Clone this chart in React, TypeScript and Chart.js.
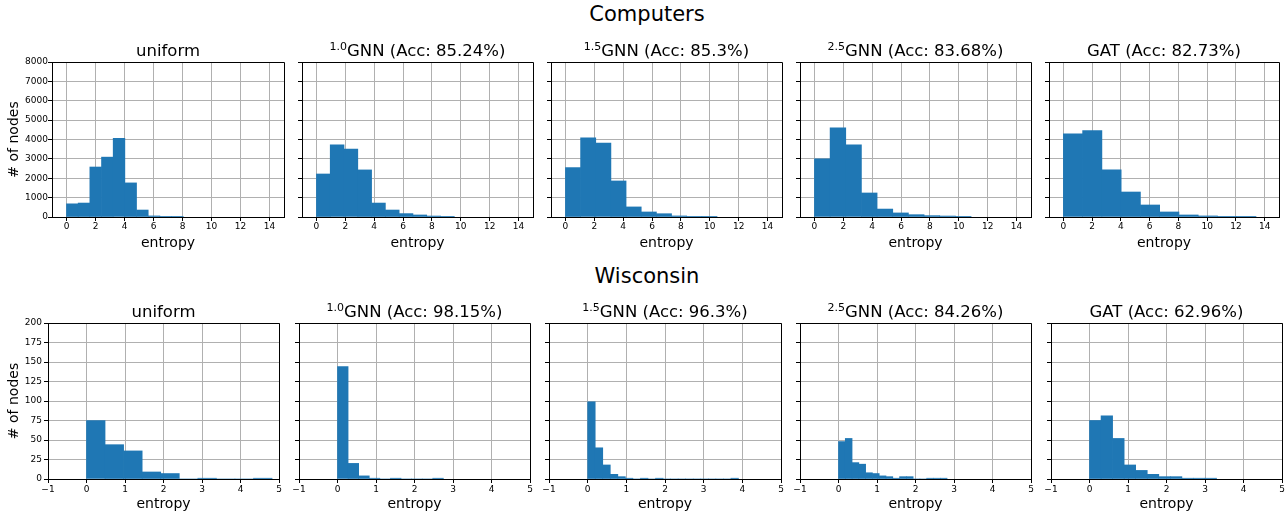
import React, { useEffect, useRef } from 'react';
import { Chart, registerables } from 'chart.js';

Chart.register(...registerables);

// ---------------------------------------------------------------------------
// Data: node-entropy histograms per dataset and model.
// Each count list splits the model's [0, max entropy] range into equal bins.
// ---------------------------------------------------------------------------
const DATASET_NAMES = ['Computers', 'Wisconsin'];
const MODEL_SUPERSCRIPTS = ['', '1.0', '1.5', '2.5', ''];
const COMPUTERS_TITLES = ['uniform', 'GNN (Acc: 85.24%)', 'GNN (Acc: 85.3%)', 'GNN (Acc: 83.68%)', 'GAT (Acc: 82.73%)'];
const WISCONSIN_TITLES = ['uniform', 'GNN (Acc: 98.15%)', 'GNN (Acc: 96.3%)', 'GNN (Acc: 84.26%)', 'GAT (Acc: 62.96%)'];

const COMPUTERS_MAX_ENTROPY = [8.05, 9.55, 10.5, 10.85, 13.4];
const COMPUTERS_UNIFORM = [680, 720, 2580, 3090, 4060, 1760, 360, 55, 3, 1];
const COMPUTERS_GNN_10 = [2220, 3720, 3510, 2430, 720, 360, 175, 105, 50, 4];
const COMPUTERS_GNN_15 = [2550, 4080, 3820, 1860, 520, 260, 170, 55, 35, 4];
const COMPUTERS_GNN_25 = [3000, 4600, 3720, 1240, 410, 210, 120, 70, 50, 5];
const COMPUTERS_GAT = [4290, 4460, 2430, 1290, 620, 260, 105, 55, 35, 3];

const WISCONSIN_MAX_ENTROPY = [4.82, 2.75, 3.9, 2.82, 3.3];
const WISCONSIN_UNIFORM = [75, 44, 36, 9, 7, 0, 1, 0, 0, 1];
const WISCONSIN_GNN_10 = [144, 20, 4, 1, 0, 1, 0, 0, 0, 1];
const WISCONSIN_GNN_15 = [99, 40, 18, 6, 3, 1, 0, 1, 0, 1, 0, 0, 0, 0, 0, 0, 0, 0, 0, 1];
const WISCONSIN_GNN_25 = [48, 52, 21, 19, 8, 7, 4, 3, 1, 3, 3, 0, 0, 1, 1, 1];
const WISCONSIN_GAT = [75, 81, 52, 18, 11, 6, 3, 3, 1, 1, 1];

const COMPUTERS_X_RANGE = [-1, 15];
const COMPUTERS_X_TICKS = [0, 2, 4, 6, 8, 10, 12, 14];
const COMPUTERS_Y_TICKS = [0, 1000, 2000, 3000, 4000, 5000, 6000, 7000, 8000];
const WISCONSIN_X_RANGE = [-1, 5];
const WISCONSIN_X_TICKS = [-1, 0, 1, 2, 3, 4, 5];
const WISCONSIN_Y_TICKS = [0, 25, 50, 75, 100, 125, 150, 175, 200];

const X_LABEL = 'entropy';
const Y_LABEL = '# of nodes';

// ---------------------------------------------------------------------------
// Figure layout (pixels)
// ---------------------------------------------------------------------------
const FIG_W = 1288;
const FIG_H = 513;
const FONT = '"DejaVu Sans", Verdana, sans-serif';
const BAR_COLOR = '#1f77b4';
const GRID_COLOR = '#b0b0b0';

const ROW_PLOT_TOP = [62, 323];
const ROW_PLOT_BOTTOM = [217, 479];
const ROW_PLOT_LEFT = [
  [52, 302, 551, 800, 1049],
  [48, 299, 549, 800, 1051],
];
const ROW_PLOT_RIGHT = [
  [284, 533, 782, 1031, 1279],
  [279, 530, 781, 1031, 1282],
];
const ROW_SUPTITLE_TOP = [4, 265.5];
const ROW_TITLE_TOP = [43, 304];
const ROW_Y_TICK_PAD = [0, 2];
const ROW_X_TICK_PAD = [0, 1];
const ROW_X_AXIS_H = [37, 34];
const ROW_X_TITLE_PAD = [2, 0];

const PAD_T = 8;
const PAD_R = 6;
const TICK_LEN = 4;

const alignPx = (v: number) => Math.round(v - 0.5) + 0.5;

// Draws the top and right frame lines of each axes box.
const framePlugin = {
  id: 'frame',
  afterDraw(chart: any) {
    const { ctx, chartArea: a } = chart;
    ctx.save();
    ctx.strokeStyle = '#000';
    ctx.lineWidth = 1;
    ctx.beginPath();
    ctx.moveTo(alignPx(a.left), alignPx(a.top));
    ctx.lineTo(alignPx(a.right), alignPx(a.top));
    ctx.lineTo(alignPx(a.right), alignPx(a.bottom));
    ctx.stroke();
    ctx.restore();
  },
};

const fmtTick = (v: number) => String(v).replace('-', '\u2212');

type PanelProps = {
  counts: number[];
  maxEntropy: number;
  xRange: number[];
  xTicks: number[];
  yTicks: number[];
  row: number;
  col: number;
};

function HistPanel({ counts, maxEntropy, xRange, xTicks, yTicks, row, col }: PanelProps) {
  const ref = useRef<HTMLCanvasElement>(null);
  const plotLeft = ROW_PLOT_LEFT[row][col];
  const plotRight = ROW_PLOT_RIGHT[row][col];
  const plotTop = ROW_PLOT_TOP[row];
  const plotBottom = ROW_PLOT_BOTTOM[row];
  const xAxisH = ROW_X_AXIS_H[row];
  const yW = col === 0 ? plotLeft : 6;
  const left = plotLeft - yW;
  const top = plotTop - PAD_T;
  const w = yW + (plotRight - plotLeft) + PAD_R;
  const h = PAD_T + (plotBottom - plotTop) + xAxisH;
  const showY = col === 0;

  useEffect(() => {
    const canvas = ref.current;
    if (!canvas) return;
    const binW = maxEntropy / counts.length;
    const points = counts.map((c, i) => ({ x: (i + 0.5) * binW, y: c }));
    const chart = new Chart(canvas, {
      type: 'bar',
      data: {
        datasets: [
          {
            data: points as any,
            backgroundColor: BAR_COLOR,
            borderWidth: 0,
            barPercentage: 1,
            categoryPercentage: 1,
          },
        ],
      },
      options: {
        animation: false,
        responsive: false,
        maintainAspectRatio: false,
        devicePixelRatio: 1,
        events: [],
        layout: { padding: { top: PAD_T, right: PAD_R, left: 0, bottom: 0 } },
        plugins: {
          legend: { display: false },
          tooltip: { enabled: false },
          title: { display: false },
        },
        scales: {
          x: {
            type: 'linear',
            min: xRange[0],
            max: xRange[1],
            offset: false,
            z: 1,
            afterBuildTicks: (s: any) => {
              s.ticks = xTicks.map((v) => ({ value: v }));
            },
            afterFit: (s: any) => {
              s.height = xAxisH;
              s.paddingLeft = 0;
              s.paddingRight = 0;
            },
            grid: { color: GRID_COLOR, lineWidth: 1, tickColor: '#000', tickLength: TICK_LEN, offset: false },
            border: { display: true, color: '#000', width: 1 },
            ticks: {
              font: { family: FONT, size: 9 },
              color: '#000',
              padding: ROW_X_TICK_PAD[row],
              maxRotation: 0,
              autoSkip: false,
              callback: (v: any) => fmtTick(Number(v)),
            },
            title: {
              display: true,
              text: X_LABEL,
              color: '#000',
              font: { family: FONT, size: 14 },
              padding: { top: 0, bottom: ROW_X_TITLE_PAD[row] },
            },
          } as any,
          y: {
            type: 'linear',
            min: yTicks[0],
            max: yTicks[yTicks.length - 1],
            z: 1,
            afterBuildTicks: (s: any) => {
              s.ticks = yTicks.map((v) => ({ value: v }));
            },
            afterFit: (s: any) => {
              s.width = yW;
              s.paddingTop = 0;
              s.paddingBottom = 0;
            },
            grid: { color: GRID_COLOR, lineWidth: 1, tickColor: '#000', tickLength: TICK_LEN },
            border: { display: true, color: '#000', width: 1 },
            ticks: {
              display: true,
              font: { family: FONT, size: 9 },
              color: '#000',
              padding: ROW_Y_TICK_PAD[row],
              autoSkip: false,
              callback: (v: any) => (showY ? fmtTick(Number(v)) : ''),
            },
            title: {
              display: showY,
              text: Y_LABEL,
              color: '#000',
              font: { family: FONT, size: 14 },
              padding: { top: 6, bottom: 0 },
            },
          } as any,
        },
      },
      plugins: [framePlugin],
    });
    return () => chart.destroy();
  }, []);

  return (
    <canvas
      ref={ref}
      width={w}
      height={h}
      style={{ position: 'absolute', left, top, width: w, height: h }}
    />
  );
}

function PanelTitle({ row, col, text }: { row: number; col: number; text: string }) {
  const l = ROW_PLOT_LEFT[row][col];
  const r = ROW_PLOT_RIGHT[row][col];
  const sup = MODEL_SUPERSCRIPTS[col];
  return (
    <div
      style={{
        position: 'absolute',
        left: l - 20,
        width: r - l + 40,
        top: ROW_TITLE_TOP[row],
        textAlign: 'center',
        fontFamily: FONT,
        fontSize: 16.5,
        lineHeight: '16px',
        color: '#000',
        whiteSpace: 'nowrap',
      }}
    >
      {sup ? (
        <span style={{ fontSize: 11, position: 'relative', top: -6 }}>{sup}</span>
      ) : null}
      {text}
    </div>
  );
}

export default function App() {
  const rows = [
    {
      titles: COMPUTERS_TITLES,
      series: [COMPUTERS_UNIFORM, COMPUTERS_GNN_10, COMPUTERS_GNN_15, COMPUTERS_GNN_25, COMPUTERS_GAT],
      maxEntropy: COMPUTERS_MAX_ENTROPY,
      xRange: COMPUTERS_X_RANGE,
      xTicks: COMPUTERS_X_TICKS,
      yTicks: COMPUTERS_Y_TICKS,
    },
    {
      titles: WISCONSIN_TITLES,
      series: [WISCONSIN_UNIFORM, WISCONSIN_GNN_10, WISCONSIN_GNN_15, WISCONSIN_GNN_25, WISCONSIN_GAT],
      maxEntropy: WISCONSIN_MAX_ENTROPY,
      xRange: WISCONSIN_X_RANGE,
      xTicks: WISCONSIN_X_TICKS,
      yTicks: WISCONSIN_Y_TICKS,
    },
  ];

  return (
    <div
      style={{
        position: 'absolute',
        left: 0,
        top: 0,
        width: FIG_W,
        height: FIG_H,
        overflow: 'hidden',
        background: '#fff',
      }}
    >
      {rows.map((rowData, row) => (
        <React.Fragment key={row}>
          <div
            style={{
              position: 'absolute',
              left: 447,
              width: 400,
              top: ROW_SUPTITLE_TOP[row],
              textAlign: 'center',
              fontFamily: FONT,
              fontSize: 21,
              lineHeight: '21px',
              color: '#000',
            }}
          >
            {DATASET_NAMES[row]}
          </div>
          {rowData.series.map((counts, col) => (
            <HistPanel
              key={col}
              counts={counts}
              maxEntropy={rowData.maxEntropy[col]}
              xRange={rowData.xRange}
              xTicks={rowData.xTicks}
              yTicks={rowData.yTicks}
              row={row}
              col={col}
            />
          ))}
          {rowData.titles.map((t, col) => (
            <PanelTitle key={'t' + col} row={row} col={col} text={t} />
          ))}
        </React.Fragment>
      ))}
    </div>
  );
}
